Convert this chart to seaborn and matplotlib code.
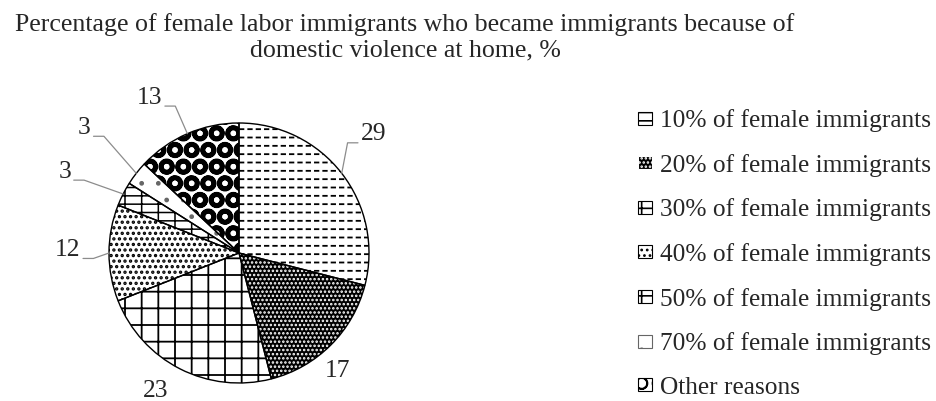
import numpy as np
import matplotlib
matplotlib.use("Agg")
import matplotlib.pyplot as plt
import seaborn as sns

categories = ["10% of female immigrants", "20% of female immigrants",
              "30% of female immigrants", "40% of female immigrants",
              "50% of female immigrants", "70% of female immigrants",
              "Other reasons"]
shares = [29, 17, 23, 12, 3, 3, 13]

# fill style of each slice (black & white print look)
hatches = ["--", "....", "+", "...", "--|", ".", "O"]
faces = ["white", "black", "white", "white", "white", "white", "white"]
hatch_colors = ["black", "white", "black", "black", "black", "#666666", "black"]
hatch_widths = [1.3, 1.2, 1.3, 1.6, 1.1, 1.0, 3.3]

# where the value labels sit: radius (in pie radii), angle shift from the slice middle
label_r = [1.38, 1.18, 1.24, 1.32, 1.48, 1.53, 1.38]
label_shift = [3.6, -5, -4, -1, 2, -1.2, 6.6]
leader = [True, False, False, True, True, True, True]

sns.set_theme(style="white")
plt.rcParams["font.family"] = ["Liberation Serif", "DejaVu Serif"]
plt.rcParams["hatch.linewidth"] = 1.2

W, H = 936, 401
cx, cy, rad = 239, 148, 130  # pie centre / radius in pixels (from bottom left)

fig = plt.figure(figsize=(W / 100, H / 100), dpi=100)
ax = fig.add_axes([0, 0, 1, 1])

wedges, _ = ax.pie(shares, startangle=90, counterclock=False, colors=faces,
                   hatch=hatches, wedgeprops=dict(linewidth=0))
for w, hc, hw in zip(wedges, hatch_colors, hatch_widths):
    w.set_edgecolor(hc)  # hatch takes the edge colour, edge itself is 0 wide
    if hasattr(w, "set_hatch_linewidth"):
        w.set_hatch_linewidth(hw)

# white vertical hatch over the first slice breaks its lines into dashes
cut, _ = ax.pie(shares, startangle=90, counterclock=False, colors=["none"] * len(shares),
                wedgeprops=dict(linewidth=0))
for i, w in enumerate(cut):
    if i == 0:
        w.set_hatch("||")
        w.set_edgecolor("white")
        if hasattr(w, "set_hatch_linewidth"):
            w.set_hatch_linewidth(2.2)
    else:
        w.set_visible(False)

# outlines on top
ax.pie(shares, startangle=90, counterclock=False, colors=["none"] * len(shares),
       wedgeprops=dict(linewidth=1.0, edgecolor="black"))

ax.set_xlim(-cx / rad, (W - cx) / rad)
ax.set_ylim(-cy / rad, (H - cy) / rad)
ax.set_aspect("auto")
ax.axis("off")

vals = np.array(shares, dtype=float)
mids = 90 - 360 * (np.cumsum(vals) - vals / 2) / vals.sum()
for i, (val, t) in enumerate(zip(shares, mids)):
    a = np.deg2rad(t + label_shift[i])
    tx, ty = label_r[i] * np.cos(a), label_r[i] * np.sin(a)
    ax.text(tx, ty, str(val), ha="center", va="center", fontsize=18.4)
    if leader[i]:
        px, py = np.cos(np.deg2rad(t)), np.sin(np.deg2rad(t))
        side = 1 if px < tx else -1
        half = 0.05 * len(str(val)) + 0.02
        ex0 = tx - side * half
        ex1 = ex0 - side * 0.08
        ey = ty - 0.065
        ax.plot([ex0, ex1, px], [ey, ey, py], color="#8c8c8c", lw=0.9)

fig.text(405 / W, 1 - 37 / H,
         "Percentage of female labor immigrants who became immigrants because of\n"
         "domestic violence at home, %",
         ha="center", va="center", fontsize=18.6, linespacing=1.22)

leg = ax.legend(wedges, categories, loc="center left",
                bbox_to_anchor=(628 / W, 147 / H), bbox_transform=fig.transFigure,
                frameon=False, fontsize=18.3, handlelength=0.55, handleheight=0.42,
                handletextpad=0.3, labelspacing=0.85, borderaxespad=0)
for hd in leg.legend_handles:
    hd.set_linewidth(0.8)

fig.savefig("out.png", dpi=100)
